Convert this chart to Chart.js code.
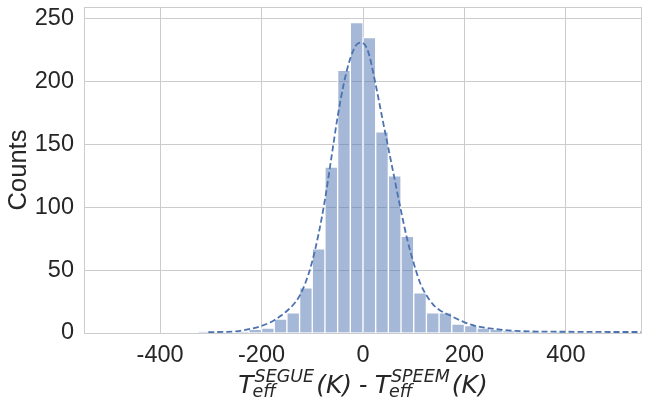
<!DOCTYPE html>
<html>
<head>
<meta charset="utf-8">
<script src="https://cdn.jsdelivr.net/npm/chart.js@4/dist/chart.umd.min.js"></script>
<style>
  html, body { margin: 0; padding: 0; background: #fff; }
  #wrap { width: 649px; height: 410px; }
</style>
</head>
<body>
<div id="wrap"><canvas id="chart" width="649" height="410"></canvas></div>
<script>
// histogram: bins of 25 K starting at -325
const binLeft = -325;
const binWidth = 25;
const counts = [1, 0, 0, 1, 3, 4, 11, 16, 36, 67, 132, 209, 247, 235, 160, 125, 77, 32, 16, 16, 7, 6, 4, 3, 2, 1, 1, 0, 1];

// dashed fit curve
const fitX = [-305, -275, -250, -225, -200, -175, -150, -137.5, -125, -112.5, -100, -87.5, -75, -62.5, -50, -37.5, -25, -12.5, -3, 10, 25, 37.5, 50, 62.5, 75, 87.5, 100, 112.5, 125, 137.5, 150, 175, 200, 225, 250, 275, 300, 350, 400, 450, 500, 550];
const fitY = [0.7, 0.9, 1.3, 3.0, 5.6, 10.2, 17.5, 22.5, 29.5, 41, 57, 79, 106, 139, 172, 199, 218.5, 229.5, 231, 224, 197.6, 172, 147, 122, 97, 74, 55.5, 40, 30, 23, 18.5, 13.3, 8.5, 5.3, 3.7, 2.5, 1.7, 1.1, 1.0, 0.9, 0.8, 0.8];

const xTicks = [-400, -200, 0, 200, 400];
const yTicks = [0, 50, 100, 150, 200, 250];
const xRange = [-550, 550];
const yRange = [0, 259.35];

const textColor = '#262626';
const gridColor = '#cccccc';
const tickFont = { family: '"Liberation Sans", Arial, sans-serif', size: 23.5 };

const barPoints = counts.map((c, i) => ({ x: binLeft + binWidth * (i + 0.5), y: c }));
const fitPoints = fitX.map((x, i) => ({ x: x, y: fitY[i] }));

// frame around the plot area (seaborn whitegrid spines)
const framePlugin = {
    id: 'frame',
    afterDatasetsDraw(chart) {
        const { ctx, chartArea: a } = chart;
        ctx.save();
        ctx.strokeStyle = gridColor;
        ctx.lineWidth = 1;
        ctx.strokeRect(Math.round(a.left) + 0.5, Math.round(a.top) + 0.5,
            Math.round(a.right) - Math.round(a.left) - 1, Math.round(a.bottom) - Math.round(a.top));
        ctx.restore();
    }
};

// x axis title with super/subscripts: T_eff^SEGUE (K) - T_eff^SPEEM (K)
const xTitlePlugin = {
    id: 'xTitle',
    afterDraw(chart) {
        const { ctx, chartArea: a } = chart;
        const big = 'italic 25px "DejaVu Sans"';
        const small = 'italic 17.5px "DejaVu Sans"';
        const plain = '25.5px "Liberation Sans", Arial';
        const base = 393;
        const runs = [
            { text: 'T', font: big },
            { sup: 'SEGUE', sub: 'eff' },
            { text: '(K)', font: big, gapBefore: 3 },
            { text: ' - ', font: plain },
            { text: 'T', font: big },
            { sup: 'SPEEM', sub: 'eff' },
            { text: '(K)', font: big, gapBefore: 3 }
        ];
        ctx.save();
        ctx.fillStyle = textColor;
        ctx.textBaseline = 'alphabetic';
        ctx.textAlign = 'left';
        const widthOf = r => {
            if (r.text !== undefined) {
                ctx.font = r.font;
                return ctx.measureText(r.text).width + (r.gapBefore || 0);
            }
            ctx.font = small;
            return Math.max(ctx.measureText(r.sup).width, ctx.measureText(r.sub).width);
        };
        const total = runs.reduce((s, r) => s + widthOf(r), 0);
        let x = (a.left + a.right) / 2 - total / 2;
        runs.forEach(r => {
            const w = widthOf(r);
            if (r.text !== undefined) {
                ctx.font = r.font;
                ctx.fillText(r.text, x + (r.gapBefore || 0), base);
            } else {
                ctx.font = small;
                ctx.fillText(r.sup, x + 1, base - 11);
                ctx.fillText(r.sub, x - 1, base + 4);
            }
            x += w;
        });
        ctx.restore();
    }
};

new Chart(document.getElementById('chart'), {
    type: 'bar',
    data: {
        datasets: [
            {
                type: 'line',
                data: fitPoints,
                borderColor: '#4c72b0',
                borderWidth: 1.8,
                borderDash: [6, 3],
                pointRadius: 0,
                fill: false,
                cubicInterpolationMode: 'monotone',
                order: 0
            },
            {
                type: 'bar',
                data: barPoints,
                backgroundColor: 'rgba(76, 114, 176, 0.5)',
                borderColor: '#ffffff',
                borderWidth: 1,
                barPercentage: 1,
                categoryPercentage: 1,
                grouped: false,
                order: 1
            }
        ]
    },
    options: {
        responsive: false,
        animation: false,
        devicePixelRatio: 1,
        layout: { padding: { top: 7, right: 7, left: 0, bottom: 0 } },
        plugins: {
            legend: { display: false },
            tooltip: { enabled: false }
        },
        scales: {
            x: {
                type: 'linear',
                offset: false,
                min: xRange[0],
                max: xRange[1],
                afterBuildTicks: s => { s.ticks = xTicks.map(v => ({ value: v })); },
                afterFit: s => { s.height = 77; s.paddingLeft = 0; s.paddingRight = 0; },
                grid: { color: gridColor, lineWidth: 1, drawTicks: false, offset: false },
                border: { display: false },
                ticks: {
                    color: textColor,
                    font: tickFont,
                    padding: 8,
                    maxRotation: 0,
                    autoSkip: false,
                    callback: v => String(v)
                }
            },
            y: {
                type: 'linear',
                min: yRange[0],
                max: yRange[1],
                afterBuildTicks: s => { s.ticks = yTicks.map(v => ({ value: v })); },
                afterFit: s => { s.width = 84; s.paddingTop = 0; s.paddingBottom = 0; },
                grid: { color: gridColor, lineWidth: 1, drawTicks: false },
                border: { display: false },
                ticks: {
                    color: textColor,
                    font: tickFont,
                    padding: 10,
                    callback: v => String(v)
                },
                title: {
                    display: true,
                    text: 'Counts',
                    color: textColor,
                    font: { family: '"Liberation Sans", Arial, sans-serif', size: 25.5 },
                    padding: { top: 4, bottom: 0 }
                }
            }
        }
    },
    plugins: [framePlugin, xTitlePlugin]
});
</script>
</body>
</html>
